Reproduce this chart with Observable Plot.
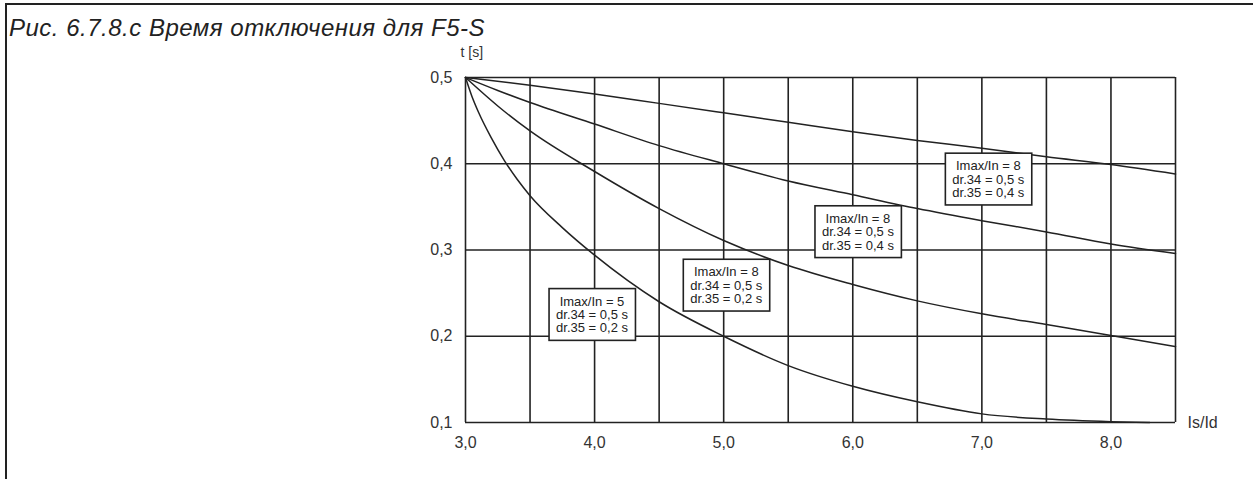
<!DOCTYPE html>
<html>
<head>
<meta charset="utf-8">
<script src="https://cdn.jsdelivr.net/npm/d3@7"></script>
<script src="https://cdn.jsdelivr.net/npm/@observablehq/plot@0.6"></script>
<style>
  html, body { margin: 0; padding: 0; background: #fff; width: 1253px; height: 479px; overflow: hidden; position: relative; }
  .frame { position: absolute; left: 5px; top: 3px; width: 1300px; height: 520px; border-top: 2px solid #222; border-left: 2px solid #222; }
  .title { position: absolute; left: 9px; top: 16px; font-family: "Liberation Sans", Arial, sans-serif; font-style: italic; font-size: 24px; line-height: 24px; color: #222; letter-spacing: 0.5px; white-space: nowrap; }
  #chart { position: absolute; left: 0; top: 38px; }
</style>
</head>
<body>
<div class="frame"></div>
<div class="title">Рис. 6.7.8.с Время отключения для F5-S</div>
<div id="chart"></div>
<script>
// ---- data ----
const xTicks = [3, 4, 5, 6, 7, 8];
const yTicks = [0.1, 0.2, 0.3, 0.4, 0.5];
const xGrid = [3, 3.5, 4, 4.5, 5, 5.5, 6, 6.5, 7, 7.5, 8, 8.5];
const yGrid = [0.1, 0.2, 0.3, 0.4, 0.5];

const isIdA = [3.0, 3.5, 4.0, 4.5, 5.0, 5.5, 6.0, 6.5, 7.0, 7.5, 8.0, 8.5];
const tA = [0.5, 0.491, 0.481, 0.470, 0.459, 0.448, 0.437, 0.427, 0.418, 0.408, 0.399, 0.388];

const isIdB = [3.0, 3.25, 3.5, 4.0, 4.5, 5.0, 5.5, 6.0, 6.5, 7.0, 7.5, 8.0, 8.5];
const tB = [0.5, 0.485, 0.471, 0.446, 0.421, 0.400, 0.380, 0.364, 0.348, 0.334, 0.321, 0.307, 0.296];

const isIdC = [3.0, 3.25, 3.5, 4.0, 4.5, 5.0, 5.5, 6.0, 6.5, 7.0, 7.5, 8.0, 8.5];
const tC = [0.5, 0.467, 0.438, 0.391, 0.348, 0.311, 0.282, 0.260, 0.241, 0.226, 0.2135, 0.201, 0.188];

const isIdD = [3.0, 3.05, 3.1, 3.2, 3.3, 3.4, 3.5, 3.75, 4.0, 4.5, 5.0, 5.5, 6.0, 6.5, 7.0, 7.5, 8.0, 8.3];
const tD = [0.5, 0.478, 0.460, 0.430, 0.404, 0.382, 0.363, 0.326, 0.294, 0.240, 0.200, 0.166, 0.142, 0.124, 0.110, 0.104, 0.101, 0.100];

// label boxes (anchored in data coordinates)
const labelX = [3.98, 5.02, 6.04, 7.05];
const labelT = [0.225, 0.259, 0.321, 0.382];
const labelRatio = ["5", "8", "8", "8"];
const labelDr34 = ["0,5", "0,5", "0,5", "0,5"];
const labelDr35 = ["0,2", "0,2", "0,4", "0,4"];

// ---- build tables ----
const curves = [
  {name: "A", xs: isIdA, ts: tA},
  {name: "B", xs: isIdB, ts: tB},
  {name: "C", xs: isIdC, ts: tC},
  {name: "D", xs: isIdD, ts: tD}
];
const rows = curves.flatMap(c => c.xs.map((x, i) => ({curve: c.name, x, t: c.ts[i]})));
const labels = labelX.map((x, i) => ({
  x, t: labelT[i],
  text: `Imax/In = ${labelRatio[i]}\ndr.34 = ${labelDr34[i]} s\ndr.35 = ${labelDr35[i]} s`
}));

const fmt = d => d.toFixed(1).replace(".", ",");
const ink = "#222";

const svg = Plot.plot({
  width: 1253,
  height: 441,
  marginLeft: 465,
  marginRight: 78,
  marginTop: 39,
  marginBottom: 57,
  style: {fontFamily: "'Liberation Sans', Arial, sans-serif", fontSize: "16px", color: "#333", background: "transparent", overflow: "visible"},
  x: {domain: [3, 8.5], ticks: xTicks, tickFormat: fmt, tickSize: 0, tickPadding: 14, label: null},
  y: {domain: [0.1, 0.5], ticks: yTicks, tickFormat: fmt, tickSize: 0, tickPadding: 13, label: null},
  marks: [
    Plot.ruleX(xGrid, {stroke: ink, strokeWidth: 1.6}),
    Plot.ruleY(yGrid, {stroke: ink, strokeWidth: 1.6}),
    Plot.line(rows, {x: "x", y: "t", z: "curve", curve: "monotone-x", stroke: ink, strokeWidth: 1.5}),
    Plot.text(labels, {x: "x", y: "t", text: "text", fontSize: 13, lineHeight: 1.03, fill: ink}),
    Plot.text(["t [s]"], {frameAnchor: "top-left", lineAnchor: "middle", dx: -5, dy: -25, fontSize: 14, fill: "#333"}),
    Plot.text(["Is/Id"], {frameAnchor: "bottom-right", lineAnchor: "middle", dx: 12, textAnchor: "start", fontSize: 16, fill: "#333"})
  ]
});

document.getElementById("chart").appendChild(svg);

// draw white boxes behind the label texts
svg.querySelectorAll("text").forEach(t => {
  if (!t.textContent.startsWith("Imax")) return;
  const b = t.getBBox();
  const r = document.createElementNS("http://www.w3.org/2000/svg", "rect");
  r.setAttribute("x", b.x - 7);
  r.setAttribute("y", b.y - 5);
  r.setAttribute("width", b.width + 14);
  r.setAttribute("height", b.height + 10);
  r.setAttribute("fill", "#fff");
  r.setAttribute("stroke", ink);
  r.setAttribute("stroke-width", 1.6);
  const tr = t.getAttribute("transform");
  if (tr) r.setAttribute("transform", tr);
  t.parentNode.insertBefore(r, t);
});
</script>
</body>
</html>
